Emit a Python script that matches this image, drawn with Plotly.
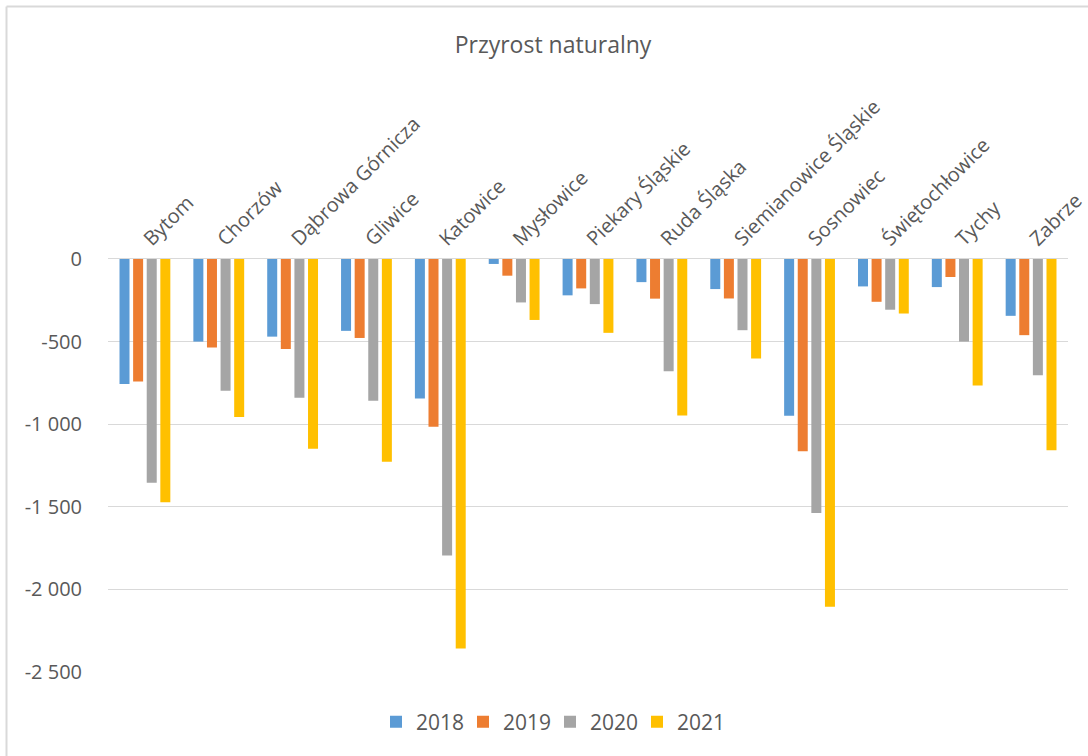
import plotly.graph_objects as go

cities = ["Bytom", "Chorzów", "Dąbrowa Górnicza", "Gliwice", "Katowice", "Mysłowice",
          "Piekary Śląskie", "Ruda Śląska", "Siemianowice Śląskie", "Sosnowiec",
          "Świętochłowice", "Tychy", "Zabrze"]
v2018 = [-757, -500, -470, -435, -844, -30, -220, -140, -182, -949, -166, -170, -344]
v2019 = [-741, -535, -545, -478, -1016, -101, -178, -240, -239, -1163, -259, -109, -461]
v2020 = [-1354, -798, -840, -858, -1795, -263, -273, -680, -431, -1538, -307, -500, -704]
v2021 = [-1472, -956, -1148, -1227, -2358, -369, -447, -947, -603, -2105, -330, -765, -1158]
series_names = ["2018", "2019", "2020", "2021"]
series_colors = ["#5B9BD5", "#ED7D31", "#A5A5A5", "#FFC000"]
y_tickvals = [0, -500, -1000, -1500, -2000, -2500]
y_ticktext = ["0", "-500", "-1 000", "-1 500", "-2 000", "-2 500"]

FONT = "Open Sans"
TXT = "#595959"

fig = go.Figure()
for name, vals, col in zip(series_names, [v2018, v2019, v2020, v2021], series_colors):
    fig.add_trace(go.Bar(x=cities, y=vals, name=name, marker=dict(color=col, line=dict(width=0))))

W, H = 1088, 756
ml, mr, mt, mb = 108, 20, 259, 84
pw, ph = W - ml - mr, H - mt - mb

fig.update_layout(
    width=W, height=H,
    margin=dict(l=ml, r=mr, t=mt, b=mb, pad=0, autoexpand=False),
    paper_bgcolor="white", plot_bgcolor="white",
    barmode="group", bargap=0.263, bargroupgap=0.265,
    font=dict(family=FONT, color=TXT, size=20),
    title=dict(text="Przyrost naturalny", x=(553 - ml) / pw, xref="paper", xanchor="center",
               y=1 - 45 / H, yanchor="middle", font=dict(size=23, color=TXT, family=FONT)),
    legend=dict(orientation="h", x=(550 - ml) / pw, xanchor="center",
                y=-(722 - (mt + ph)) / ph, yanchor="middle",
                font=dict(size=21, color=TXT, family=FONT), itemwidth=30,
                entrywidth=42, entrywidthmode="pixels", traceorder="normal"),
    xaxis=dict(side="top", tickangle=-45, showgrid=False, showline=True, linecolor="#D9D9D9",
               linewidth=1, ticks="", tickfont=dict(size=20, color=TXT), automargin=False),
    yaxis=dict(range=[-2500, 0], tickvals=y_tickvals, ticktext=y_ticktext, showgrid=True,
               gridcolor="#D9D9D9", gridwidth=1, zeroline=False, showline=False, ticks="",
               ticklabelstandoff=25, tickfont=dict(size=20, color=TXT), automargin=False),
)

# chart area frame (top and left edges)
fx = (6.5 - ml) / pw
fy = 1 + (mt - 6.5) / ph
fig.add_shape(type="line", xref="paper", yref="paper", x0=fx, x1=(W - ml) / pw + 0.01,
              y0=fy, y1=fy, line=dict(color="#D9D9D9", width=2), layer="below")
fig.add_shape(type="line", xref="paper", yref="paper", x0=fx, x1=fx,
              y0=fy, y1=-mb / ph - 0.01, line=dict(color="#D9D9D9", width=2), layer="below")

fig.write_html("out.html", config={"displayModeBar": False},
               post_script="document.body.style.margin='0';")
